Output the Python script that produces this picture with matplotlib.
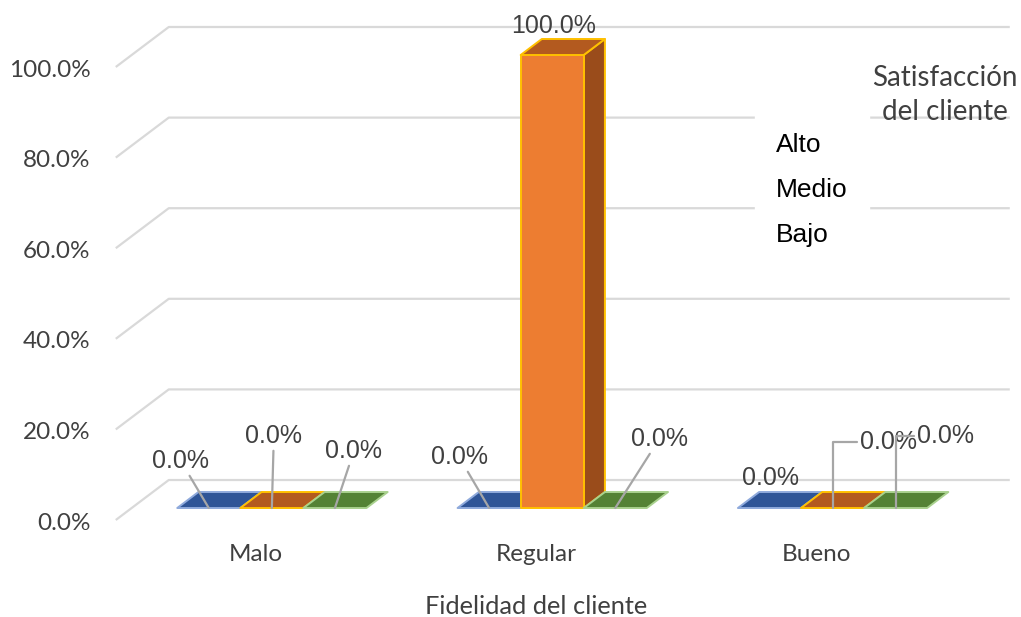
import matplotlib
matplotlib.use("Agg")
import matplotlib.pyplot as plt
from matplotlib.patches import Polygon, Patch

# datos: porcentaje por nivel de satisfacción en cada categoría de fidelidad
categorias = ["Malo", "Regular", "Bueno"]
niveles = ["Alto", "Medio", "Bajo"]
alto = [0.0, 0.0, 0.0]
medio = [0.0, 100.0, 0.0]
bajo = [0.0, 0.0, 0.0]
ticks = [0, 20, 40, 60, 80, 100]
tick_labels = ["0.0%", "20.0%", "40.0%", "60.0%", "80.0%", "100.0%"]

valores = [alto, medio, bajo]

# colores de cada serie: frente, tapa, lateral, borde
estilos = [
    dict(front="#4472C4", top="#2F5597", side="#264478", edge="#8FAADC"),
    dict(front="#ED7D31", top="#B35A1F", side="#9A4C1B", edge="#FFC000"),
    dict(front="#70AD47", top="#548235", side="#43682B", edge="#A9D18E"),
]

# profundidad del pseudo 3D (en unidades de datos)
DX, DY = 0.189, 8.83
Z0, Z1 = 0.3, 0.7
ANCHO = 0.225

FUENTE_EJE = "Lato"
FUENTE_DATOS = "Liberation Sans"
GRIS_TEXTO = "#404040"


def proy(x, y, z):
    return (x + z * DX, y + z * DY)


fig = plt.figure(figsize=(10.21, 6.17), dpi=100)
ax = fig.add_axes([0, 0, 1, 1])
ax.set_xlim(-0.913, 2.729)
ax.set_ylim(-21.41, 114.79)
ax.axis("off")

# pared de fondo: líneas de cuadrícula con su diagonal en el suelo/pared lateral
x_ini, x_fin = -0.5, len(categorias) - 0.5
for t, lab in zip(ticks, tick_labels):
    xs = [x_ini, x_ini + DX, x_fin + DX]
    ys = [t, t + DY, t + DY]
    ax.plot(xs, ys, color="#D9D9D9", lw=1.6, zorder=1, solid_capstyle="butt")
    ax.text(-0.59, t - 0.7, lab, ha="right", va="center", fontsize=17.5,
            family=FUENTE_EJE, color=GRIS_TEXTO)

# barras
for s, (vals, est) in enumerate(zip(valores, estilos)):
    for c, v in enumerate(vals):
        x0 = c - 1.5 * ANCHO + s * ANCHO
        x1 = x0 + ANCHO
        kw = dict(edgecolor=est["edge"], lw=1.4, joinstyle="round", zorder=3)
        if v > 0:
            frente = [proy(x0, 0, Z0), proy(x1, 0, Z0), proy(x1, v, Z0), proy(x0, v, Z0)]
            lado = [proy(x1, 0, Z0), proy(x1, 0, Z1), proy(x1, v, Z1), proy(x1, v, Z0)]
            ax.add_patch(Polygon(lado, closed=True, facecolor=est["side"], **kw))
            ax.add_patch(Polygon(frente, closed=True, facecolor=est["front"], **kw))
        tapa = [proy(x0, v, Z0), proy(x1, v, Z0), proy(x1, v, Z1), proy(x0, v, Z1)]
        ax.add_patch(Polygon(tapa, closed=True, facecolor=est["top"], **kw))

# etiquetas de datos (desplazamientos en píxeles respecto al borde frontal de la tapa)
desplaz = {
    (0, 0): (-28, 47), (1, 0): (2, 72), (2, 0): (19, 57),
    (0, 1): (-30, 51), (1, 1): (1, 29), (2, 1): (44, 69),
    (0, 2): (1, 30), (1, 2): (56, 66), (2, 2): (50, 72),
}
codos = {(1, 2), (2, 2)}
sin_linea = {(1, 1), (0, 2)}
for s, vals in enumerate(valores):
    for c, v in enumerate(vals):
        xc = c - 1.5 * ANCHO + s * ANCHO + ANCHO / 2
        punto = proy(xc, v, Z0)
        dx, dy = desplaz[(s, c)]
        if (s, c) in sin_linea:
            flecha = None
        elif (s, c) in codos:
            flecha = dict(arrowstyle="-", color="#A6A6A6", lw=1.6,
                          connectionstyle="angle,angleA=0,angleB=90,rad=0",
                          shrinkA=0, shrinkB=0)
        else:
            flecha = dict(arrowstyle="-", color="#A6A6A6", lw=1.6,
                          shrinkA=0, shrinkB=0)
        ax.annotate(f"{v:.1f}%", xy=punto, xytext=(dx, dy),
                    textcoords="offset pixels", ha="center", va="center",
                    fontsize=18, family=FUENTE_DATOS, color=GRIS_TEXTO,
                    arrowprops=flecha, zorder=6)

# categorías del eje x y título
for c, nombre in enumerate(categorias):
    ax.text(c, -7.7, nombre, ha="center", va="center", fontsize=17.5,
            family=FUENTE_EJE, color=GRIS_TEXTO)
ax.text(1.0, -19.2, "Fidelidad del cliente", ha="center", va="center",
        fontsize=18.3, family=FUENTE_EJE, color=GRIS_TEXTO)

# leyenda sin marcadores, con su título aparte
manejadores = [Patch(facecolor="none", edgecolor="none", label=n) for n in niveles]
leg = ax.legend(handles=manejadores, loc="upper left",
                bbox_to_anchor=(755 / 1021, 1 - 112 / 617),
                bbox_transform=fig.transFigure, frameon=True, fancybox=False,
                facecolor="white", edgecolor="white", framealpha=1,
                handlelength=0, handletextpad=0, borderpad=0.8,
                labelspacing=0.8, borderaxespad=0,
                prop=dict(family=FUENTE_DATOS, size=19))
leg.set_zorder(5)
fig.text(945 / 1021, 1 - 95 / 617, "Satisfacción\ndel cliente", ha="center",
         va="center", fontsize=20, family=FUENTE_EJE, color=GRIS_TEXTO,
         linespacing=1.38, zorder=7)

fig.savefig("out.png", dpi=100, facecolor="white")
